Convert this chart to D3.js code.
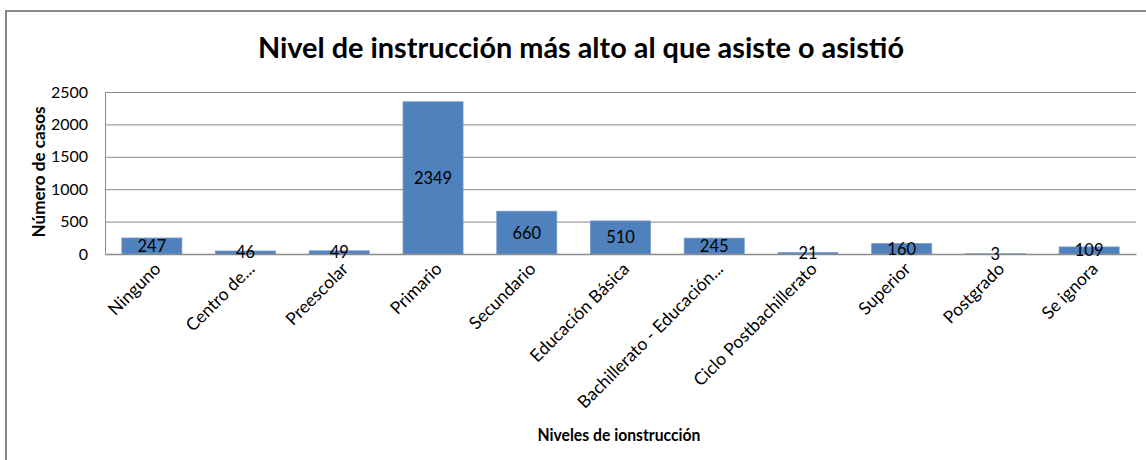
<!DOCTYPE html>
<html><head><meta charset="utf-8">
<script src="https://cdn.jsdelivr.net/npm/d3@7"></script>
<style>body{margin:0;background:#fff}svg{display:block}text{font-family:Lato,"Open Sans",sans-serif}</style>
</head><body>
<script>
const categories = ["Ninguno","Centro de...","Preescolar","Primario","Secundario","Educación Básica","Bachillerato - Educación...","Ciclo Postbachillerato","Superior","Postgrado","Se ignora"];
const values = [247,46,49,2349,660,510,245,21,160,3,109];
const yTicks = [0,500,1000,1500,2000,2500];
const title = "Nivel de instrucción más alto al que asiste o asistió";
const yTitle = "Número de casos";
const xTitle = "Niveles de ionstrucción";

const W = 1146, H = 460;
const svg = d3.select("body").append("svg").attr("width", W).attr("height", H);

// chart border (top + left visible)
svg.append("path").attr("d", `M6,${H+2} V11 H${W+2}`).attr("fill","none").attr("stroke","#888").attr("stroke-width",2);

const plot = {l:105, r:1136, t:92, b:254};
const x = d3.scaleBand().domain(categories).range([plot.l, plot.r]).paddingInner(0.36).paddingOuter(0.18);
const y = d3.scaleLinear().domain([0,2500]).range([plot.b, plot.t]);

// gridlines
svg.append("g").selectAll("line").data(yTicks.filter(d=>d>0)).join("line")
  .attr("x1", plot.l).attr("x2", plot.r).attr("y1", d=>y(d)+0.5).attr("y2", d=>y(d)+0.5)
  .attr("stroke","#8a8a8a").attr("stroke-width",1);

// y axis
const yAxis = svg.append("g").attr("transform",`translate(${plot.l},0)`)
  .call(d3.axisLeft(y).tickValues(yTicks).tickSize(0).tickPadding(17).tickFormat(d3.format("d")));
yAxis.select(".domain").attr("stroke","#8a8a8a");
yAxis.selectAll("text").attr("font-size","16px").attr("fill","#000").attr("font-family","Lato");

// bars
svg.append("g").selectAll("rect").data(values).join("rect")
  .attr("x",(d,i)=>x(categories[i])).attr("width",x.bandwidth())
  .attr("y",d=>y(d)).attr("height",d=>y(0)-y(d))
  .attr("fill","#4F81BD").attr("stroke","#7396c8").attr("stroke-width",0.8);

// x axis
const xAxis = svg.append("g").attr("transform",`translate(0,${plot.b})`)
  .call(d3.axisBottom(x).tickSize(0).tickFormat(()=>""));
xAxis.select(".domain").attr("stroke","#8a8a8a").attr("stroke-width",1.5);

// x labels rotated
svg.append("g").selectAll("text").data(categories).join("text")
  .attr("transform", d=>`translate(${x(d)+x.bandwidth()/2+10},${plot.b+16}) rotate(-45)`)
  .attr("text-anchor","end").attr("font-size","17.5px").attr("fill","#000")
  .text(d=>d);

// data labels
svg.append("g").selectAll("text").data(values).join("text")
  .attr("x",(d,i)=>x(categories[i])+x.bandwidth()/2)
  .attr("y",d=>(y(d)+y(0))/2).attr("dy","0.36em")
  .attr("text-anchor","middle").attr("font-size","16.5px").attr("fill","#000")
  .text(d=>d);

// titles
svg.append("text").attr("x",581).attr("y",58).attr("text-anchor","middle")
  .attr("font-size","29px").attr("font-weight","bold").attr("fill","#000")
  .attr("textLength",646).attr("lengthAdjust","spacingAndGlyphs").text(title);
svg.append("text").attr("x",619).attr("y",441).attr("text-anchor","middle")
  .attr("font-size","16.5px").attr("font-weight","bold").attr("fill","#000")
  .attr("textLength",163).attr("lengthAdjust","spacingAndGlyphs").text(xTitle);
svg.append("text").attr("transform","translate(45,172) rotate(-90)").attr("text-anchor","middle")
  .attr("font-size","16.5px").attr("font-weight","bold").attr("fill","#000")
  .attr("textLength",131).attr("lengthAdjust","spacingAndGlyphs").text(yTitle);
</script>
</body></html>
